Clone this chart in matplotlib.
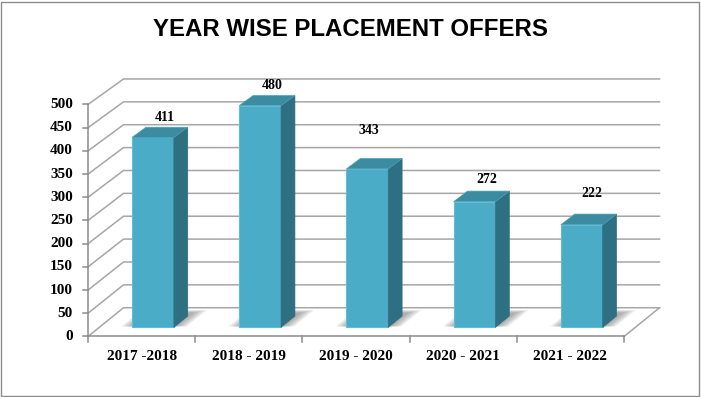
import matplotlib.pyplot as plt
from matplotlib.patches import Polygon, Rectangle

# chart data
years = ["2017 -2018", "2018 - 2019", "2019 - 2020", "2020 - 2021", "2021 - 2022"]
offers = [411, 480, 343, 272, 222]
yticks = list(range(0, 501, 50))

# where excel put the data labels (shift along x, lift above bar in value units)
label_dx = [0.22, 0.22, 0.12, 0.22, 0.20]
label_lift = [61, 60, 101, 67, 87]

# fake 3d box: depth 0 = front plane, depth 1 = back wall
DX = 0.331      # x shift of back wall in category units
DY = 62.0       # y shift of back wall in value units
SHRINK = 0.014  # a bit of perspective on the back wall


def proj(u, v, d):
    return (u + d * DX, v * (1 - d * SHRINK) + d * DY)


front_c = "#4aacc6"
side_c = "#2f6f82"
top_c = "#3b8ba1"
grid_c = "#a6a6a6"

fig = plt.figure(figsize=(7.01, 3.97), dpi=100)
ax = fig.add_axes([0, 0, 1, 1])
ax.set_xlim(-0.821, 5.718)
ax.set_ylim(-130.4, 725.2)
ax.axis("off")

n = len(years)

# walls and floor
for v in yticks:
    a = proj(0, v, 0)
    b = proj(0, v, 1)
    c = proj(n, v, 1)
    ax.plot([a[0], b[0], c[0]], [a[1], b[1], c[1]], color=grid_c, lw=1.1, zorder=1)
a = proj(n, 0, 0)
b = proj(n, 0, 1)
ax.plot([a[0], b[0]], [a[1], b[1]], color=grid_c, lw=1.1, zorder=1)

# axes lines and ticks
a = proj(0, 0, 0)
b = proj(n, 0, 0)
ax.plot([a[0], b[0]], [a[1], b[1]], color="#8c8c8c", lw=1.1, zorder=5)
b = proj(0, 500, 0)
ax.plot([a[0], b[0]], [a[1], b[1]], color="#8c8c8c", lw=1.1, zorder=5)
for v in yticks:
    ax.plot([-0.047, 0], [v, v], color="#8c8c8c", lw=1.1, zorder=5)
    ax.text(-0.14, v, str(v), ha="right", va="center", fontsize=11,
            fontweight="bold", family="Liberation Serif")
for i in range(n + 1):
    ax.plot([i, i], [0, -11], color="#8c8c8c", lw=1.1, zorder=5)

# bars
d0, d1 = 0.32, 0.71
hw = 0.195
for i, val in enumerate(offers):
    c = i + 0.5
    u0, u1 = c - hw, c + hw
    # soft shadow on the floor
    for k in range(7):
        e = 0.015 + 0.016 * k
        pts = [proj(u0 - e, 0, d0 + 0.03), proj(u1 + e, 0, d0 + 0.03),
               proj(u1 + e, 0, d1 + 0.1 + e), proj(u0 - e, 0, d1 + 0.1 + e)]
        ax.add_patch(Polygon(pts, closed=True, color="#6a6a6a", alpha=0.1,
                             lw=0, zorder=2))
    front = [proj(u0, 0, d0), proj(u1, 0, d0), proj(u1, val, d0), proj(u0, val, d0)]
    side = [proj(u1, 0, d0), proj(u1, 0, d1), proj(u1, val, d1), proj(u1, val, d0)]
    top = [proj(u0, val, d0), proj(u1, val, d0), proj(u1, val, d1), proj(u0, val, d1)]
    ax.add_patch(Polygon(front, closed=True, fc=front_c, ec="#5fbdd6", lw=0.8, zorder=3))
    ax.add_patch(Polygon(side, closed=True, fc=side_c, ec=side_c, lw=0.5, zorder=3))
    ax.add_patch(Polygon(top, closed=True, fc=top_c, ec="#4aa0b8", lw=0.5, zorder=3))
    ax.text(c + label_dx[i], val + label_lift[i], str(val), ha="center", va="center",
            fontsize=10, fontweight="bold", family="Liberation Serif", zorder=6)
    ax.text(c, -44, years[i], ha="center", va="center", fontsize=11,
            fontweight="bold", family="Liberation Serif")

fig.text(0.5, 0.926, "YEAR WISE PLACEMENT OFFERS", ha="center", va="center",
         fontsize=17.3, fontweight="bold", family="Liberation Sans")

# chart border
fig.patches.append(Rectangle((0.002, 0.003), 0.995, 0.993, transform=fig.transFigure,
                             fill=False, ec="#8c8c8c", lw=1))

fig.savefig("out.png", dpi=100)
